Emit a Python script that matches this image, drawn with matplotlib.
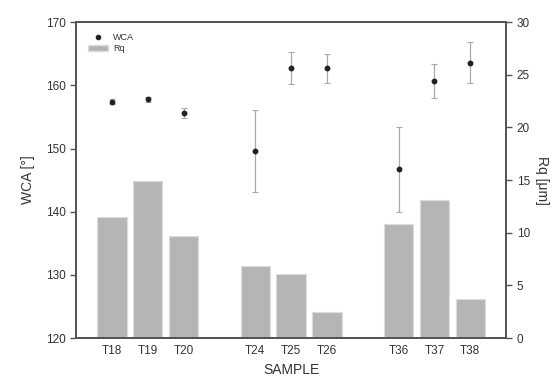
import numpy as np
import matplotlib.pyplot as plt
from matplotlib.patches import Patch
from matplotlib.lines import Line2D

samples = ['T18', 'T19', 'T20', 'T24', 'T25', 'T26', 'T36', 'T37', 'T38']
xpos = [1, 2, 3, 5, 6, 7, 9, 10, 11]
rq = [11.5, 14.9, 9.7, 6.8, 6.1, 2.5, 10.8, 13.1, 3.7]
wca = [157.4, 157.8, 155.6, 149.6, 162.7, 162.7, 146.7, 160.7, 163.6]
wca_err = [0.4, 0.4, 0.8, 6.5, 2.5, 2.3, 6.7, 2.7, 3.2]

txt = '#333333'
plt.rcParams['font.family'] = 'Liberation Sans'
plt.rcParams['text.color'] = txt
plt.rcParams['axes.labelcolor'] = txt
plt.rcParams['xtick.color'] = txt
plt.rcParams['ytick.color'] = txt

fig = plt.figure(figsize=(5.55, 3.82), dpi=100)
ax = fig.add_axes([0.137, 0.115, 0.775, 0.827])
ax2 = ax.twinx()

ax2.bar(xpos, rq, width=0.82, color='#b5b5b5', edgecolor='#dcdcdc', linewidth=0.8)
ax2.set_ylim(0, 30)
ax2.set_yticks([0, 5, 10, 15, 20, 25, 30])
ax2.set_ylabel('Rq [μm]', rotation=270, labelpad=14, fontsize=10)

ax.errorbar(xpos, wca, yerr=wca_err, fmt='o', color='#222222', ms=3.2,
            ecolor='#aaaaaa', elinewidth=0.9, capsize=2.5, capthick=0.8)
ax.set_ylim(120, 170)
ax.set_yticks([120, 130, 140, 150, 160, 170])
ax.set_xlim(0, 12)
ax.set_xticks(xpos)
ax.set_xticklabels(samples)
ax.set_xlabel('SAMPLE', fontsize=10, labelpad=4)
ax.set_ylabel('WCA [°]', fontsize=10, labelpad=8)
ax.set_zorder(ax2.get_zorder() + 1)
ax.patch.set_visible(False)

for a in (ax, ax2):
    for s in a.spines.values():
        s.set_color('#555555')
        s.set_linewidth(1.3)
    a.tick_params(labelsize=8.5, width=1, color='#555555')
ax.tick_params(axis='x', length=0, pad=5)
ax.tick_params(axis='y', length=4)
ax2.tick_params(axis='y', length=4)

handles = [Line2D([], [], marker='o', ls='none', color='#222222', ms=3),
           Patch(facecolor='#b5b5b5', edgecolor='#dcdcdc')]
ax.legend(handles, ['WCA', 'Rq'], loc='upper left', frameon=False, fontsize=6.5,
          handlelength=2.2, handletextpad=0.5, labelspacing=0.2,
          borderaxespad=0.5, bbox_to_anchor=(0.01, 0.99))

fig.savefig('out.png', dpi=100)
